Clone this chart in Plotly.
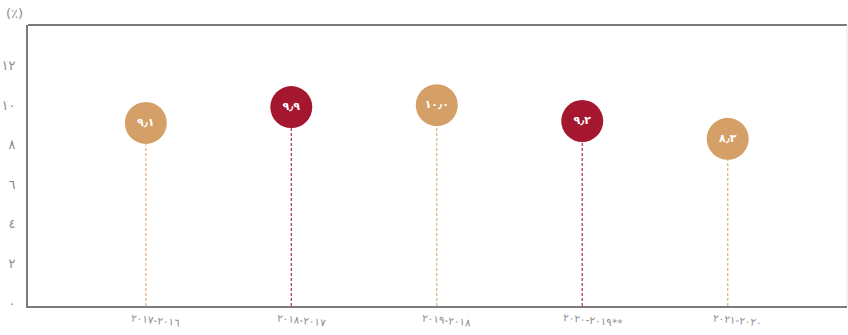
import plotly.graph_objects as go

categories = ["٢٠١٧-٢٠١٦", "٢٠١٨-٢٠١٧", "٢٠١٩-٢٠١٨", "٢٠٢٠-٢٠١٩**", "٢٠٢١-٢٠٢٠"]
values = [9.1, 9.9, 10.0, 9.2, 8.3]
value_labels = ["٩٫١", "٩٫٩", "١٠٫٠", "٩٫٢", "٨٫٣"]
highlight = [False, True, False, True, False]
y_ticks = [0, 2, 4, 6, 8, 10, 12]
y_tick_labels = ["٠", "٢", "٤", "٦", "٨", "١٠", "١٢"]
unit_label = "(٪)"

TAN = "#D4A068"
RED = "#A5172F"
TAN_LINE = "#DDB88E"
RED_LINE = "#B5404F"
FONT = "DejaVu Sans"
LRO, PDF = "\u202D", "\u202C"

xs = list(range(len(categories)))
fig = go.Figure()

for i, v in enumerate(values):
    fig.add_trace(go.Scatter(
        x=[xs[i], xs[i]], y=[-0.15, v], mode="lines",
        line=dict(color=RED_LINE if highlight[i] else TAN_LINE, width=1.3, dash="3px,2px"),
        hoverinfo="skip", showlegend=False))

fig.add_trace(go.Scatter(
    x=xs, y=values, mode="markers+text",
    marker=dict(size=42, color=[RED if h else TAN for h in highlight], line=dict(width=0)),
    text=["<b>" + t + "</b>" for t in value_labels], textposition="middle center",
    textfont=dict(family=FONT, size=11, color="white"),
    showlegend=False))

for i, c in enumerate(categories):
    fig.add_annotation(x=xs[i], y=0, xref="x", yref="paper", text=LRO + c + PDF, showarrow=False,
                       textangle=6, xshift=10, yanchor="top", yshift=-3,
                       font=dict(family=FONT, size=10.5, color="#8a8a8a"))

fig.add_annotation(x=0, y=1, xref="paper", yref="paper", text=unit_label, showarrow=False,
                   xanchor="right", yanchor="bottom", xshift=-3, yshift=2,
                   font=dict(family=FONT, size=13, color="#8a8a8a"))

fig.add_shape(type="line", xref="paper", yref="paper", x0=0, x1=1, y0=1, y1=1,
              line=dict(color="#7a7a7a", width=2))
fig.add_shape(type="line", xref="paper", yref="paper", x0=1, x1=1, y0=0, y1=1,
              line=dict(color="#e4e4e4", width=1))

fig.update_xaxes(range=[-0.81, 4.82], showticklabels=False, showgrid=False, zeroline=False,
                 showline=True, linecolor="#7a7a7a", linewidth=2, ticks="")
fig.update_yaxes(range=[-0.15, 14.05], tickvals=y_ticks, ticktext=y_tick_labels,
                 showgrid=False, zeroline=False, showline=True, linecolor="#7a7a7a", linewidth=2,
                 ticks="", ticklabelstandoff=8,
                 tickfont=dict(family=FONT, size=13, color="#8a8a8a"))

fig.update_layout(width=848, height=335, margin=dict(l=28, r=1, t=25, b=29),
                  plot_bgcolor="white", paper_bgcolor="white")

fig.write_html("out.html")
